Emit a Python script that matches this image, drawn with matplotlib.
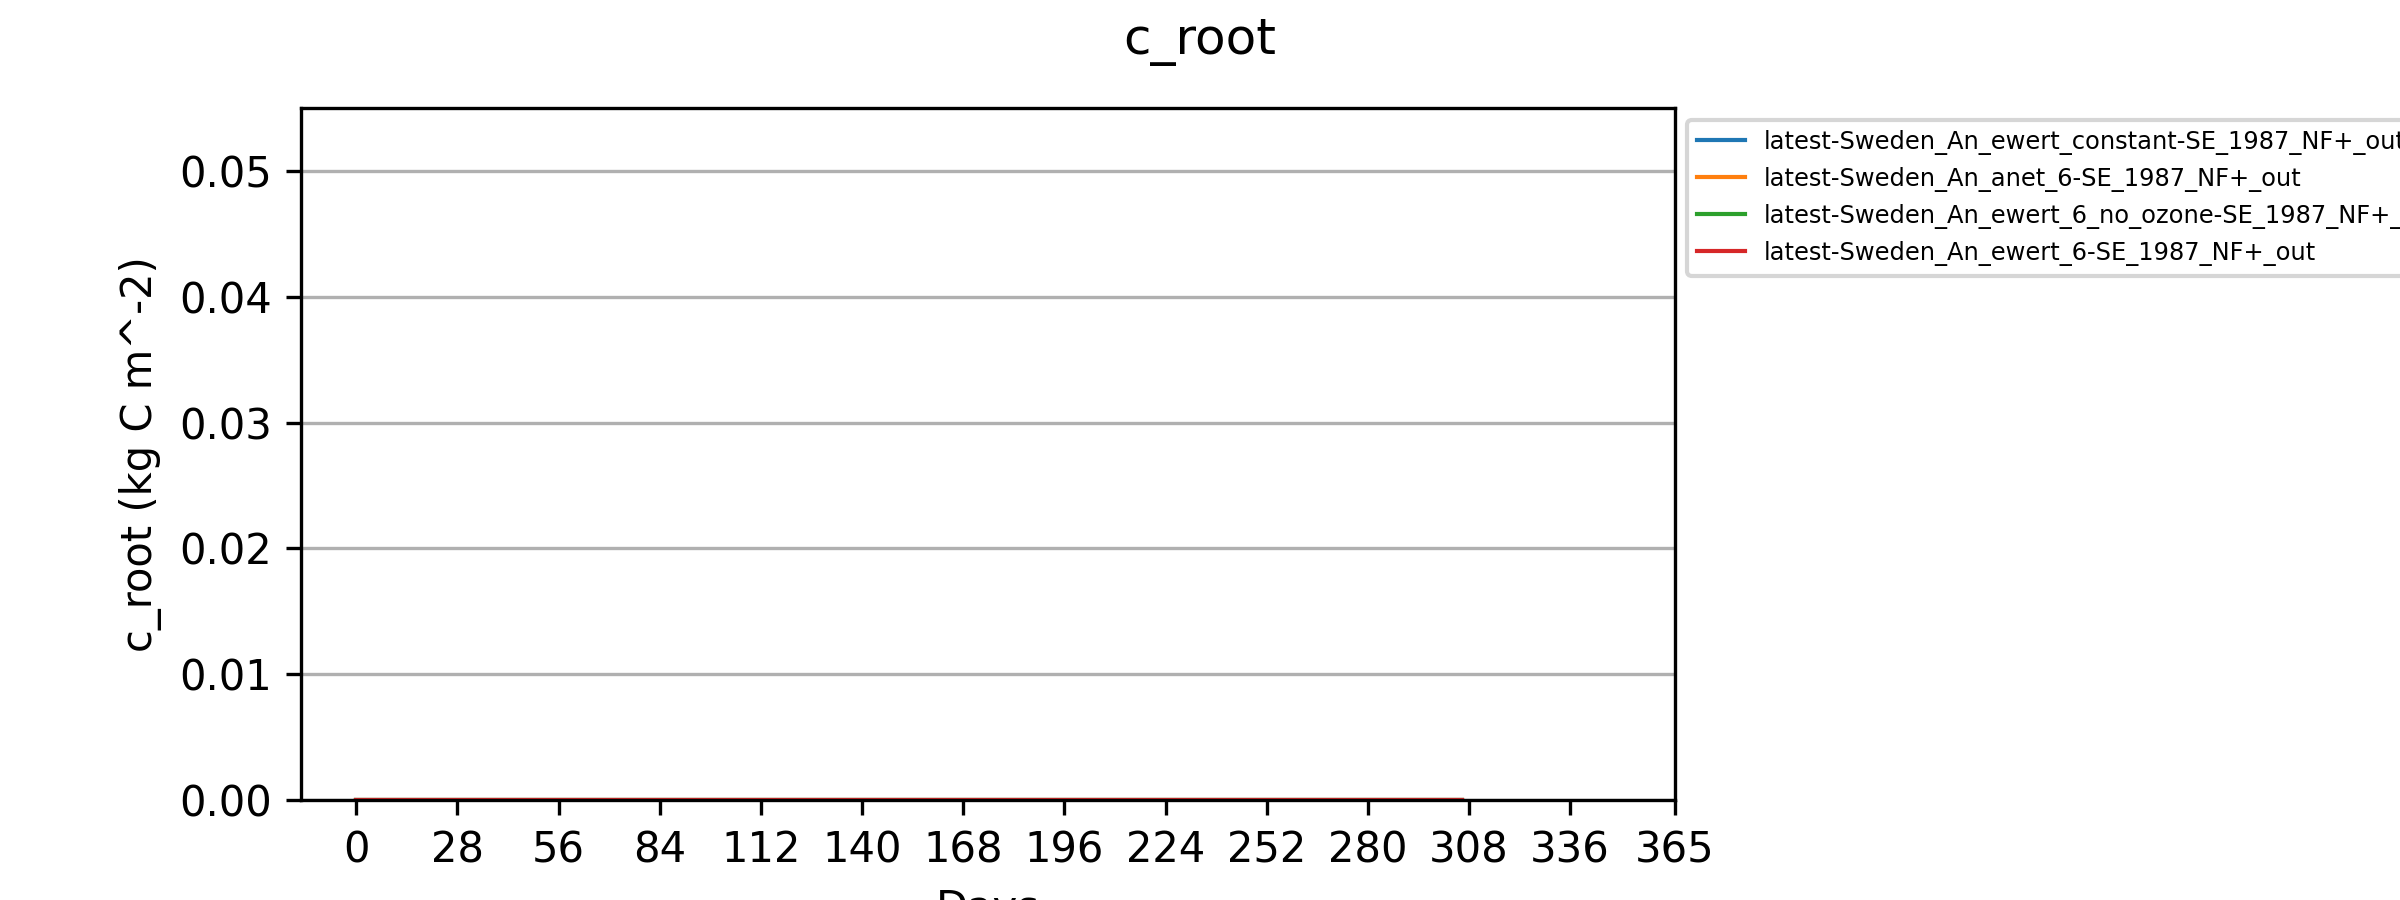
import matplotlib
matplotlib.use('Agg')
import matplotlib.pyplot as plt
import numpy as np

# data: simulated days and c_root for four runs (all zero in this run)
days = np.arange(0, 307)
labels = ['latest-Sweden_An_ewert_constant-SE_1987_NF+_out',
          'latest-Sweden_An_anet_6-SE_1987_NF+_out',
          'latest-Sweden_An_ewert_6_no_ozone-SE_1987_NF+_out',
          'latest-Sweden_An_ewert_6-SE_1987_NF+_out']
c_root = [[0.0] * len(days) for _ in labels]
xticks = [0, 28, 56, 84, 112, 140, 168, 196, 224, 252, 280, 308, 336, 365]

fig = plt.figure(figsize=(8, 3), dpi=300)
ax = fig.add_axes([0.1254, 0.1111, 0.5725, 0.7689])

for vals, lab in zip(c_root, labels):
    ax.plot(days, vals, label=lab, linewidth=1)

ax.set_xlim(right=365)
ax.set_ylim(0, 0.055)
ax.set_xticks(xticks)
ax.set_yticks([0.0, 0.01, 0.02, 0.03, 0.04, 0.05])
ax.grid(axis='y')
ax.set_xlabel('Days')
ax.set_ylabel('c_root (kg C m^-2)')
ax.legend(loc='upper left', bbox_to_anchor=(1, 1), fontsize='xx-small')
fig.suptitle('c_root')

fig.savefig('out.png', dpi=300)
